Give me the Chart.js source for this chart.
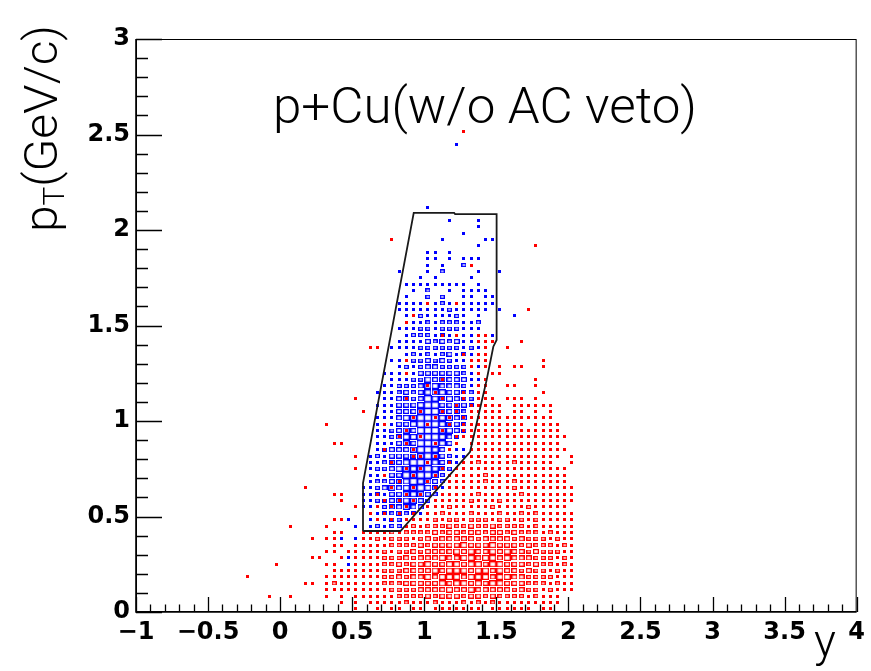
<!DOCTYPE html>
<html>
<head>
<meta charset="utf-8">
<script src="https://cdn.jsdelivr.net/npm/chart.js"></script>
<style>
  html, body { margin: 0; padding: 0; background: #fff; }
  #wrap { width: 871px; height: 671px; }
</style>
</head>
<body>
<div id="wrap"><canvas id="c" width="871" height="671"></canvas></div>
<script>
// binning of the two 2D histograms (rapidity y along x, pT along y)
const xBinFirst = -0.275;   // centre of the first column of each row string
const xBinWidth = 0.05;
const yBinWidth = 1 / 30;

// bin contents, "row| columns" ; '.' = empty, 1..5 = relative content (box size)
// red: all tracks
const redRows = [
  '75| .......... .......... .......... .1........ ........',
  '58| .......... .......... .1........ .......... ........',
  '57| .......... .......... .......... .......... .1......',
  '54| .......... .......... .......... ..1....... ........',
  '48| .......... .......... ......1... 1......... ........',
  '47| .......... .......... .......... .......... 1.......',
  '46| .......... .......... ....1..... .......... ........',
  '45| .......... .......... ...1...... .......... ........',
  '43| .......... .......... ........1. 1..11..... ........',
  '42| .......... .......... .......... ...111...1 ........',
  '41| .......... ........11 .......... ....1..1.. ........',
  '40| .......... .......... .......... .1.11..... ........',
  '39| .......... .......... ...1...... ..111..... ..1.....',
  '38| .......... .......... .......... ..1.1.1.11 ..1.....',
  '37| .......... .......... ...1...... ...1.11... ........',
  '36| .......... .......... ........1. ....1..... .1......',
  '35| .......... .......... ......1... ...11..11. .1......',
  '34| .......... .......... .......1.. .1.11..... ..1.....',
  '33| .......... ......1... ...1....1. .1.111.111 .1......',
  '32| .......... .......... .......... 1.11111.11 1111....',
  '31| .......... .......1.. .....1..1. 1.11111.11 .1.1....',
  '30| .......... .......... ....1..1.1 .111111111 1111....',
  '29| .......... ..1....... 1.....1..1 .111111111 .1111...',
  '28| .......... .......... ...1....1. .111111111 11111...',
  '27| .......... .......... ..1..1.... 1111111111 111111..',
  '26| .......... ...11..... ...1...1.. 1.11111111 11111...',
  '25| .......... .......... 1...1....1 ..11111111 111111..',
  '24| .......... ......1... ....11.1.. ..11111111 11111.1.',
  '23| .......... .......... .1....1..1 .112111121 1111..1.',
  '22| .......... ......1... ...1.1..1. 1111111111 111111..',
  '21| .......... .......... 1...1..1.1 1111211111 111111..',
  '20| .......... .......... ..1...1..1 1111211121 111111..',
  '19| .........1 .......... .1..1..1.1 1111111121 1111111.',
  '18| .......... ...11....1 ...1.1..11 1112111112 1111111.',
  '17| .......... ....1..... 1.1.1..111 1121112111 1111111.',
  '16| .......... ......1..1 .1.1..1112 1111121111 211111..',
  '15| .......... ........1. 1.1.1.1121 1121112112 1211111.',
  '14| .......... ...11....1 .1.1111212 2122212212 1211111.',
  '13| .......1.. ..1....... ...1212223 2232232222 1211111.',
  '12| .......... ...11..111 1212222323 3233233232 2212111.',
  '11| .......... 1.11...112 1222123233 3332333323 2221211.',
  '10| .......... ...11.1111 1222232333 3433343332 3222121.',
  ' 9| .......... ..11.11111 2122323333 4343343433 2322211.',
  ' 8| .......... 11..1.1111 2223233343 3443443433 3222121.',
  ' 7| .....1.... ..11..1111 2232334334 4344344333 2322121.',
  ' 6| .......... ...1111111 2223333434 4434434332 3221211.',
  ' 5| .1........ ..11111111 2232334344 4344434433 2222111.',
  ' 4| .........1 1.12111111 2223333343 4434344333 2221211.',
  ' 3| .......... ..11111111 1222233334 3343333323 2212111.',
  ' 2| ....1..1.. ..1.1.1111 1122223233 3233232222 12111...',
  ' 1| .......... ....1.1.11 1112111211 1212121111 11111...',
  ' 0| .......... ......1..1 .11.11.111 1111.11111 1.11....'
];

// blue: tracks with AC hit
const blueRows = [
  '73| .......... .......... .......... 1......... ........',
  '63| .......... .......... ......1... .......... ........',
  '61| .......... .......... .........1 ...1...... ........',
  '60| .......... .......... .......... ...1...... ........',
  '59| .......... .......... .......... .1........ ........',
  '58| .......... .......... ........1. ....11.... ........',
  '57| .......... .......... .......... ...1...... ........',
  '56| .......... .......... ......11.1 .......... ........',
  '55| .......... .......... ......11.1 .111...... ........',
  '54| .......... .......... ......1.1. .2........ ........',
  '53| .......... .......... ..1...1.2. ...1..1... ........',
  '52| .......... .......... .....1.1.. ..1....... ........',
  '51| .......... .......... ...1111111 11.1...... ........',
  '50| .......... .......... ....1.2..1 .1111..... ........',
  '49| .......... .......... ...1..2.2. .11.11.... ........',
  '48| .......... .......... ..11111121 .11111.... ........',
  '47| .......... .......... ..11111112 11111.1... ........',
  '46| .......... .......... ...1.21111 21.1....1. ........',
  '45| .......... .......... ....112122 2112...... ........',
  '44| .......... .......... ..11122122 2111...... ........',
  '43| .......... .......... ...1222121 .11111.... ........',
  '42| .......... .......... ..11113232 311....... ........',
  '41| .......... .......... .111122222 2121...... ........',
  '40| .......... .......... ...1212123 12111..... ........',
  '39| .......... .......... .11.223232 111....... ........',
  '38| .......... .......... ..12123322 2211...... ........',
  '37| .......... .......... 1111133333 3211...... ........',
  '36| .......... .......... .111224333 3311...... ........',
  '35| .......... .......... 1122234433 3211...... ........',
  '34| .......... .........1 1123234443 3221...... ........',
  '33| .......... .......... 1133235434 3221...... ........',
  '32| .......... .........1 1133345533 3321...... ........',
  '31| .......... .......... 1133345533 3211...... ........',
  '30| .......... .........1 1134455544 331....... ........',
  '29| .......... .........1 1133455543 321....... ........',
  '28| .......... .........1 1234355544 321....... ........',
  '27| .......... .........1 1234455543 21........ ........',
  '26| .......... .........1 1134355543 1......... ........',
  '25| .......... .........1 2333455431 11........ ........',
  '24| .......... ........12 1333345432 11........ ........',
  '23| .......... ........11 2334555432 1......... ........',
  '22| .......... ........12 2344445432 1......... ........',
  '21| .......... ........11 1335455421 .......... ........',
  '20| .......... ........12 233454432. .......... ........',
  '19| .......... .......112 343445431. .......... ........',
  '18| .......... .......112 13344432.. .......... ........',
  '17| .......... .......112 23344321.. .......... ........',
  '16| .......... .......111 2334331... .......... ........',
  '15| .......... ........11 223221.... .......... ........',
  '14| .......... .....1..11 12211..... .......... ........',
  '13| .......... ......1.12 122....... .......... ........',
  '12| .......... ........1. .......... .......... ........',
  '11| .......... ....1.1... 1......... .......... ........',
  ' 8| .......... .....1.... .......... .......... ........',
  ' 7| .......... .....1.... .......... .......... ........'
];

// graphical cut (closed polygon)
const cutX = [0.575, 0.575, 0.927, 1.207, 1.214, 1.502, 1.502, 1.479, 1.433, 1.318, 0.835, 0.575];
const cutY = [0.424, 0.675, 2.090, 2.090, 2.083, 2.083, 1.424, 1.389, 1.215, 0.839, 0.424, 0.424];

const xTickValues = [-1, -0.5, 0, 0.5, 1, 1.5, 2, 2.5, 3, 3.5, 4];
const yTickValues = [0, 0.5, 1, 1.5, 2, 2.5, 3];

const titleText = 'p+Cu(w/o AC veto)';

function binsFromRows(rows) {
  const pts = [];
  rows.forEach(r => {
    const parts = r.split('|');
    const j = parseInt(parts[0], 10);
    const s = parts[1].replace(/ /g, '');
    for (let k = 0; k < s.length; k++) {
      const v = s.charCodeAt(k) - 48;
      if (v >= 1 && v <= 9) {
        pts.push({ x: xBinFirst + k * xBinWidth, y: (j + 0.5) * yBinWidth, v: v });
      }
    }
  });
  return pts;
}

// ROOT "BOX" look: box size grows with the content
const boxSize = { 1: [3, 3], 2: [5, 4], 3: [6, 5], 4: [7, 6], 5: [8, 7] };
function makeBoxes(color) {
  const out = {};
  Object.keys(boxSize).forEach(v => {
    const w = boxSize[v][0], h = boxSize[v][1];
    const cv = document.createElement('canvas');
    cv.width = w; cv.height = h;
    const g = cv.getContext('2d');
    if (v === '1') {
      g.fillStyle = color;
      g.fillRect(0, 0, w, h);
    } else {
      g.strokeStyle = color;
      g.lineWidth = 1.3;
      g.strokeRect(0.6, 0.6, w - 1.2, h - 1.2);
    }
    out[v] = cv;
  });
  return out;
}

const redBoxes = makeBoxes('#ff0000');
const blueBoxes = makeBoxes('#0000ff');

// draws text pieces squeezed/stretched to a given width
function drawFit(ctx, pieces, width) {
  let total = 0;
  pieces.forEach(p => { ctx.font = p.font; p.w = ctx.measureText(p.t).width; total += p.w; });
  ctx.save();
  ctx.scale(width / total, 1);
  let cx = 0;
  pieces.forEach(p => { ctx.font = p.font; ctx.fillText(p.t, cx, p.dy || 0); cx += p.w; });
  ctx.restore();
}

const rootFrame = {
  id: 'rootFrame',
  afterDraw(chart) {
    const ctx = chart.ctx, a = chart.chartArea;
    const sx = chart.scales.x, sy = chart.scales.y;
    ctx.save();
    ctx.strokeStyle = '#000';
    ctx.lineWidth = 1;
    ctx.strokeRect(a.left + 0.5, a.top + 0.5, a.right - a.left - 1, a.bottom - a.top - 1);

    // ticks drawn inside the frame, 4 minor ticks per major
    ctx.lineWidth = 1.3;
    ctx.beginPath();
    for (let i = 0; i <= 50; i++) {
      const px = Math.round(sx.getPixelForValue(-1 + i * 0.1)) + 0.5;
      const len = i % 5 === 0 ? 15 : 7.5;
      ctx.moveTo(px, a.bottom);
      ctx.lineTo(px, a.bottom - len);
    }
    for (let i = 0; i <= 30; i++) {
      const py = Math.round(sy.getPixelForValue(i * 0.1)) + 0.5;
      const len = i % 5 === 0 ? 26 : 12;
      ctx.moveTo(a.left, py);
      ctx.lineTo(a.left + len, py);
    }
    ctx.stroke();
    ctx.lineWidth = 1.6;
    ctx.beginPath();
    ctx.moveTo(a.left, a.top);
    ctx.lineTo(a.left, a.bottom);
    ctx.lineTo(a.right, a.bottom);
    ctx.stroke();

    ctx.fillStyle = '#000';
    ctx.textBaseline = 'alphabetic';
    const light = '300 50px Roboto, "Liberation Sans", sans-serif';

    // title
    ctx.save();
    ctx.translate(273, 123);
    drawFit(ctx, [{ t: titleText, font: light }], 424);
    ctx.restore();

    // y axis title p_T(GeV/c)
    ctx.save();
    ctx.translate(57, 232);
    ctx.rotate(-Math.PI / 2);
    drawFit(ctx, [
      { t: 'p', font: '300 46px Roboto, "Liberation Sans", sans-serif' },
      { t: 'T', font: '300 30px Roboto, "Liberation Sans", sans-serif', dy: 7 },
      { t: '(GeV/c)', font: '300 46px Roboto, "Liberation Sans", sans-serif' }
    ], 207);
    ctx.restore();

    // x axis title
    ctx.font = '300 46px Roboto, "Liberation Sans", sans-serif';
    ctx.textAlign = 'center';
    ctx.fillText('y', 825, 657);
    ctx.restore();
  }
};

const tickFont = { family: '"DejaVu Sans", sans-serif', weight: 'bold', size: 24 };

new Chart(document.getElementById('c'), {
  type: 'scatter',
  data: {
    datasets: [
      {
        label: 'cut',
        data: cutX.map((x, i) => ({ x: x, y: cutY[i] })),
        showLine: true,
        borderColor: '#1a1a1a',
        borderWidth: 1.8,
        pointRadius: 0,
        tension: 0,
        order: 1
      },
      {
        label: 'all',
        data: binsFromRows(redRows),
        pointStyle: c => redBoxes[c.raw.v],
        pointRadius: 3,
        order: 2
      },
      {
        label: 'AC',
        data: binsFromRows(blueRows),
        pointStyle: c => blueBoxes[c.raw.v],
        pointRadius: 3,
        order: 3
      }
    ]
  },
  options: {
    responsive: false,
    animation: false,
    devicePixelRatio: 1,
    events: [],
    layout: { padding: { left: 0, right: 11, top: 39, bottom: 0 }, autoPadding: false },
    plugins: { legend: { display: false }, tooltip: { enabled: false }, title: { display: false } },
    scales: {
      x: {
        type: 'linear',
        min: -1,
        max: 4,
        afterBuildTicks: s => { s.ticks = xTickValues.map(v => ({ value: v })); },
        afterFit: s => { s.height = 59; },
        grid: { display: false, drawTicks: false },
        border: { display: false },
        ticks: {
          autoSkip: false,
          maxRotation: 0,
          padding: 6,
          color: '#000',
          font: tickFont,
          callback: v => String(v).replace('-', '\u2212')
        }
      },
      y: {
        type: 'linear',
        min: 0,
        max: 3,
        afterBuildTicks: s => { s.ticks = yTickValues.map(v => ({ value: v })); },
        afterFit: s => { s.width = 136; },
        grid: { display: false, drawTicks: false },
        border: { display: false },
        ticks: {
          autoSkip: false,
          padding: 6,
          color: '#000',
          font: tickFont,
          callback: v => String(v)
        }
      }
    }
  },
  plugins: [rootFrame]
});
</script>
</body>
</html>
